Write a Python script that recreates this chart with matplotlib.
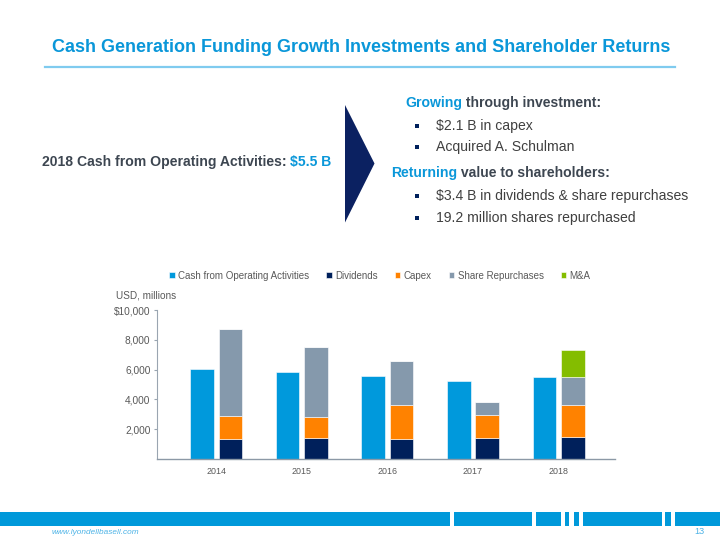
import numpy as np
import matplotlib
matplotlib.use("Agg")
import matplotlib.pyplot as plt
from matplotlib.patches import Rectangle, Polygon
from matplotlib.text import Annotation

plt.rcParams['font.family'] = ['Liberation Sans', 'DejaVu Sans']

# ---- data (USD millions) ----
years = ['2014', '2015', '2016', '2017', '2018']
cash_ops = [6050, 5840, 5600, 5210, 5500]
dividends = [1370, 1390, 1360, 1410, 1500]
capex = [1490, 1440, 2250, 1550, 2110]
repurchases = [5870, 4680, 3000, 870, 1880]
m_and_a = [0, 0, 0, 0, 1850]
series_names = ['Cash from Operating Activities', 'Dividends', 'Capex',
                'Share Repurchases', 'M&A']

C_CASH = '#0099DC'
C_DIV = '#00205B'
C_CAPEX = '#FF8200'
C_REP = '#8599AC'
C_MA = '#84BD00'
C_TITLE = '#0A97D9'
C_DARK = '#3D4651'
C_GRAY = '#595959'
FS = 10.05

W, H = 720, 540
fig = plt.figure(figsize=(7.2, 5.4), dpi=100)


def fx(px):
    return px / W


def fy(py):
    return 1 - py / H


def append_text(prev, txt, color, bold=True):
    # place txt right after a previous text artist, same baseline
    a = Annotation(txt, xy=(1, 0), xycoords=prev, va='bottom', ha='left',
                   fontsize=FS, fontweight='bold' if bold else 'normal', color=color)
    fig.add_artist(a)
    return a


# ---- header ----
fig.text(fx(361), fy(47.5), 'Cash Generation Funding Growth Investments and Shareholder Returns',
         ha='center', va='center', fontsize=12.95, fontweight='bold', color=C_TITLE)
fig.add_artist(plt.Line2D([fx(45), fx(675)], [fy(66.7), fy(66.7)],
                          color='#7FCBEF', lw=1.6))

# left statement, two colours
t = fig.text(fx(42), fy(162), '2018 Cash from Operating Activities: ',
             ha='left', va='center', fontsize=FS, fontweight='bold', color=C_DARK)
append_text(t, '$5.5 B', C_TITLE)

# arrow triangle
fig.add_artist(Polygon([(fx(345), fy(105)), (fx(374.5), fy(163.5)), (fx(345), fy(222.5))],
                       closed=True, transform=fig.transFigure, color='#0B2161', lw=0))

# right block
h1 = fig.text(fx(405), fy(103), 'Growing', ha='left', va='center',
              fontsize=FS, fontweight='bold', color=C_TITLE)
append_text(h1, ' through investment:', C_DARK)
h2 = fig.text(fx(391), fy(173), 'Returning', ha='left', va='center',
              fontsize=FS, fontweight='bold', color=C_TITLE)
append_text(h2, ' value to shareholders:', C_DARK)

bullets = [(126, '$2.1 B in capex'), (147, 'Acquired A. Schulman'),
           (196, '$3.4 B in dividends & share repurchases'),
           (218, '19.2 million shares repurchased')]
for yy, txt in bullets:
    fig.add_artist(Rectangle((fx(415), fy(yy + 2)), 4 / W, 4 / H,
                             transform=fig.transFigure, color=C_DIV, lw=0))
    fig.text(fx(436), fy(yy), txt, ha='left', va='center', fontsize=FS, color='#404040')

# ---- chart ----
ax = fig.add_axes([fx(157.3), fy(459), fx(615) - fx(157.3), (459 - 310) / H])
x = np.arange(len(years))
bw = 0.275
off = 0.166
edge = dict(edgecolor='white', linewidth=0.4)

ax.bar(x - off, cash_ops, bw, color=C_CASH, label=series_names[0], **edge)
b1 = np.array(dividends)
b2 = b1 + np.array(capex)
b3 = b2 + np.array(repurchases)
ax.bar(x + off, dividends, bw, color=C_DIV, label=series_names[1], **edge)
ax.bar(x + off, capex, bw, bottom=b1, color=C_CAPEX, label=series_names[2], **edge)
ax.bar(x + off, repurchases, bw, bottom=b2, color=C_REP, label=series_names[3], **edge)
ax.bar(x + off, m_and_a, bw, bottom=b3, color=C_MA, label=series_names[4], **edge)

ax.set_xlim(-0.69, 4.66)
ax.set_ylim(0, 10000)
ax.set_xticks(x)
ax.set_xticklabels(years, fontsize=6.4, color=C_GRAY)
ax.tick_params(axis='x', length=0, pad=6)
yt = [2000, 4000, 6000, 8000, 10000]
ax.set_yticks(yt)
ax.set_yticklabels(['2,000', '4,000', '6,000', '8,000', '$10,000'], fontsize=7.3, color=C_GRAY)
ax.tick_params(axis='y', length=2.3, width=0.8, color='#9AA5B1', pad=2.6)
for s in ['top', 'right']:
    ax.spines[s].set_visible(False)
ax.spines['left'].set_color('#9AA5B1')
ax.spines['bottom'].set_color('#8C99A6')
ax.spines['left'].set_linewidth(0.8)
ax.spines['bottom'].set_linewidth(1.0)

fig.text(fx(116), fy(295.5), 'USD, millions', ha='left', va='center', fontsize=7.2, color=C_GRAY)

ax.legend(loc='center', bbox_to_anchor=(fx(380), fy(275.7)), bbox_transform=fig.transFigure,
          ncol=5, frameon=False, fontsize=7.05, handlelength=0.55, handleheight=0.55,
          handletextpad=0.35, columnspacing=1.75, labelcolor=C_GRAY, borderpad=0)

# ---- footer band ----
segs = [(0, 450), (454, 531.7), (535.7, 560.7), (564.7, 569.3), (573.7, 579),
        (583, 661.7), (665.3, 670.7), (674.7, 720)]
for a, z in segs:
    fig.add_artist(Rectangle((fx(a), fy(526)), (z - a) / W, (526 - 511.7) / H,
                             transform=fig.transFigure, color='#0099DA', lw=0))
fig.text(fx(52), fy(532), 'www.lyondellbasell.com', ha='left', va='center',
         fontsize=5.95, style='italic', color='#4DB3E6')
fig.text(fx(694), fy(532), '13', ha='left', va='center', fontsize=6.6, color='#4DB3E6')

fig.savefig('out.png', dpi=100)
